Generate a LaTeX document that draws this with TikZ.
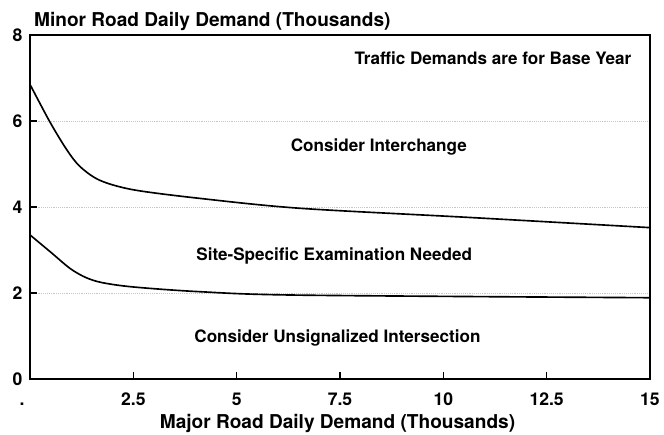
\documentclass[tikz,border=0pt]{standalone}
\usepackage{fontspec}
\setmainfont{TeX Gyre Heros}
\begin{document}
\begin{tikzpicture}[x=1.24cm, y=1.29cm,
    region/.style={font=\fontsize{14.6}{16}\selectfont\bfseries},
    axistitle/.style={font=\fontsize{16.3}{18}\selectfont\bfseries},
    ticklabel/.style={font=\fontsize{15}{17}\selectfont\bfseries},
    boundary/.style={line width=1.4pt, line join=round}]
    \useasboundingbox (-0.726,-1.302) rectangle (15.339,8.814);
    \foreach \y in {2,4,6}
        \draw[gray!45, densely dotted, line width=0.6pt] (0,\y) -- (15,\y);
    \draw[line width=0.9pt] (0,0) rectangle (15,8);
    \foreach \y in {2,4,6}
        \draw[line width=0.9pt] (0,\y) -- (0.17,\y);
    \foreach \x in {2.5,5,7.5,10,12.5}
        \draw[line width=0.9pt] (\x,0) -- (\x,0.163);
    \foreach \y in {0,2,4,6,8}
        \node[ticklabel] (ylab\y) at (-0.30,\y) {\y};
    \foreach \x [count=\i] in {2.5,5,7.5,10,12.5,15}
        \node[ticklabel, anchor=base] (xlab\i) at (\x,-0.605) {\x};
    \node[ticklabel, anchor=base] (xlab0) at (-0.19,-0.605) {.};
    \node[axistitle, anchor=base west] (ytitle) at (0,8.20) {Minor Road Daily Demand (Thousands)};
    \node[axistitle, anchor=base] (xtitle) at (7.44,-1.147) {Major Road Daily Demand (Thousands)};
    \draw[boundary] plot[smooth, tension=0.5] coordinates {(0,6.85) (0.48,5.98) (0.89,5.33) (1.21,4.94) (1.69,4.62) (2.5,4.40) (4.11,4.2) (6.53,3.97) (10.57,3.76) (15,3.52)};
    \draw[boundary] plot[smooth, tension=0.5] coordinates {(0,3.35) (0.5,2.95) (0.97,2.57) (1.35,2.36) (1.75,2.24) (2.5,2.14) (4.11,2.03) (6.53,1.95) (15,1.89)};
    \node[region] (base) at (11.20,7.465) {Traffic Demands are for Base Year};
    \node[region] (interchange) at (8.44,5.40) {Consider Interchange};
    \node[region] (sitespecific) at (7.36,2.86) {Site-Specific Examination Needed};
    \node[region] (unsignalized) at (7.44,0.953) {Consider Unsignalized Intersection};
\end{tikzpicture}
\end{document}
